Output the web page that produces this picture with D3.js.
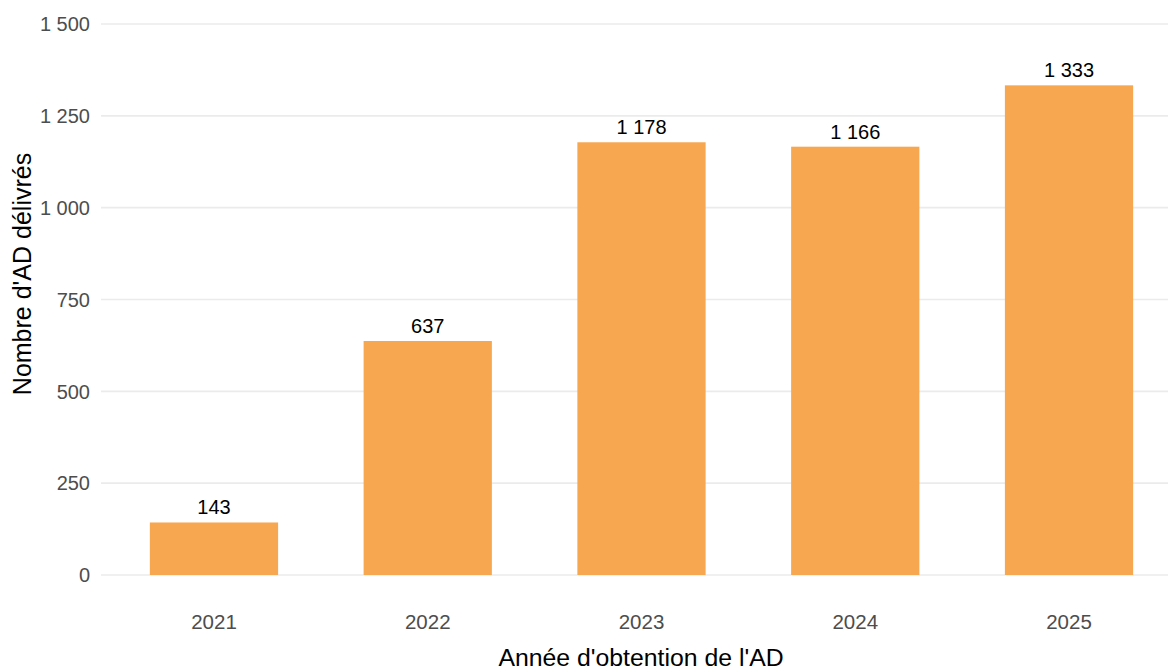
<!DOCTYPE html>
<html>
<head>
<meta charset="utf-8">
<script src="https://cdn.jsdelivr.net/npm/d3@7"></script>
<style>
  html, body { margin: 0; padding: 0; background: #fff; }
  svg { display: block; font-family: "Liberation Sans", Arial, sans-serif; }
</style>
</head>
<body>
<svg id="chart" width="1168" height="671"></svg>
<script>
// Attestations délivrées par année
const years = ["2021", "2022", "2023", "2024", "2025"];
const counts = [143, 637, 1178, 1166, 1333];
const yTicks = [0, 250, 500, 750, 1000, 1250, 1500];

const fr = d3.formatLocale({ decimal: ",", thousands: " ", grouping: [3], currency: ["", " €"] });
const fmt = fr.format(",d");

const svg = d3.select("#chart");
const gridLeft = 101, gridRight = 1168;

const x = d3.scaleBand()
  .domain(years)
  .range([107.1, 1175.9])
  .paddingInner(0.4)
  .paddingOuter(0.2);

const y = d3.scaleLinear()
  .domain([0, 1500])
  .range([575, 24]);

// horizontal grid
svg.append("g")
  .selectAll("line")
  .data(yTicks)
  .join("line")
  .attr("x1", gridLeft)
  .attr("x2", gridRight)
  .attr("y1", d => y(d))
  .attr("y2", d => y(d))
  .attr("stroke", "#ebebeb")
  .attr("stroke-width", 1.6);

// y tick labels
svg.append("g")
  .selectAll("text")
  .data(yTicks)
  .join("text")
  .attr("x", 90)
  .attr("y", d => y(d))
  .attr("dy", "0.36em")
  .attr("text-anchor", "end")
  .attr("font-size", 20)
  .attr("fill", "#4d4d4d")
  .text(d => fmt(d));

// bars
svg.append("g")
  .selectAll("rect")
  .data(years)
  .join("rect")
  .attr("x", d => x(d))
  .attr("width", x.bandwidth())
  .attr("y", (d, i) => y(counts[i]))
  .attr("height", (d, i) => y(0) - y(counts[i]))
  .attr("fill", "#f7a750");

// value labels
svg.append("g")
  .selectAll("text")
  .data(years)
  .join("text")
  .attr("x", d => x(d) + x.bandwidth() / 2)
  .attr("y", (d, i) => y(counts[i]) - 8)
  .attr("text-anchor", "middle")
  .attr("font-size", 20)
  .attr("fill", "#000")
  .text((d, i) => fmt(counts[i]));

// x tick labels
svg.append("g")
  .selectAll("text")
  .data(years)
  .join("text")
  .attr("x", d => x(d) + x.bandwidth() / 2)
  .attr("y", 629)
  .attr("text-anchor", "middle")
  .attr("font-size", 20.5)
  .attr("fill", "#4d4d4d")
  .text(d => d);

// axis titles
svg.append("text")
  .attr("x", 641)
  .attr("y", 666)
  .attr("text-anchor", "middle")
  .attr("font-size", 24.8)
  .attr("fill", "#000")
  .text("Année d'obtention de l'AD");

svg.append("text")
  .attr("transform", "translate(31,274) rotate(-90)")
  .attr("text-anchor", "middle")
  .attr("font-size", 25)
  .attr("fill", "#000")
  .text("Nombre d'AD délivrés");
</script>
</body>
</html>
